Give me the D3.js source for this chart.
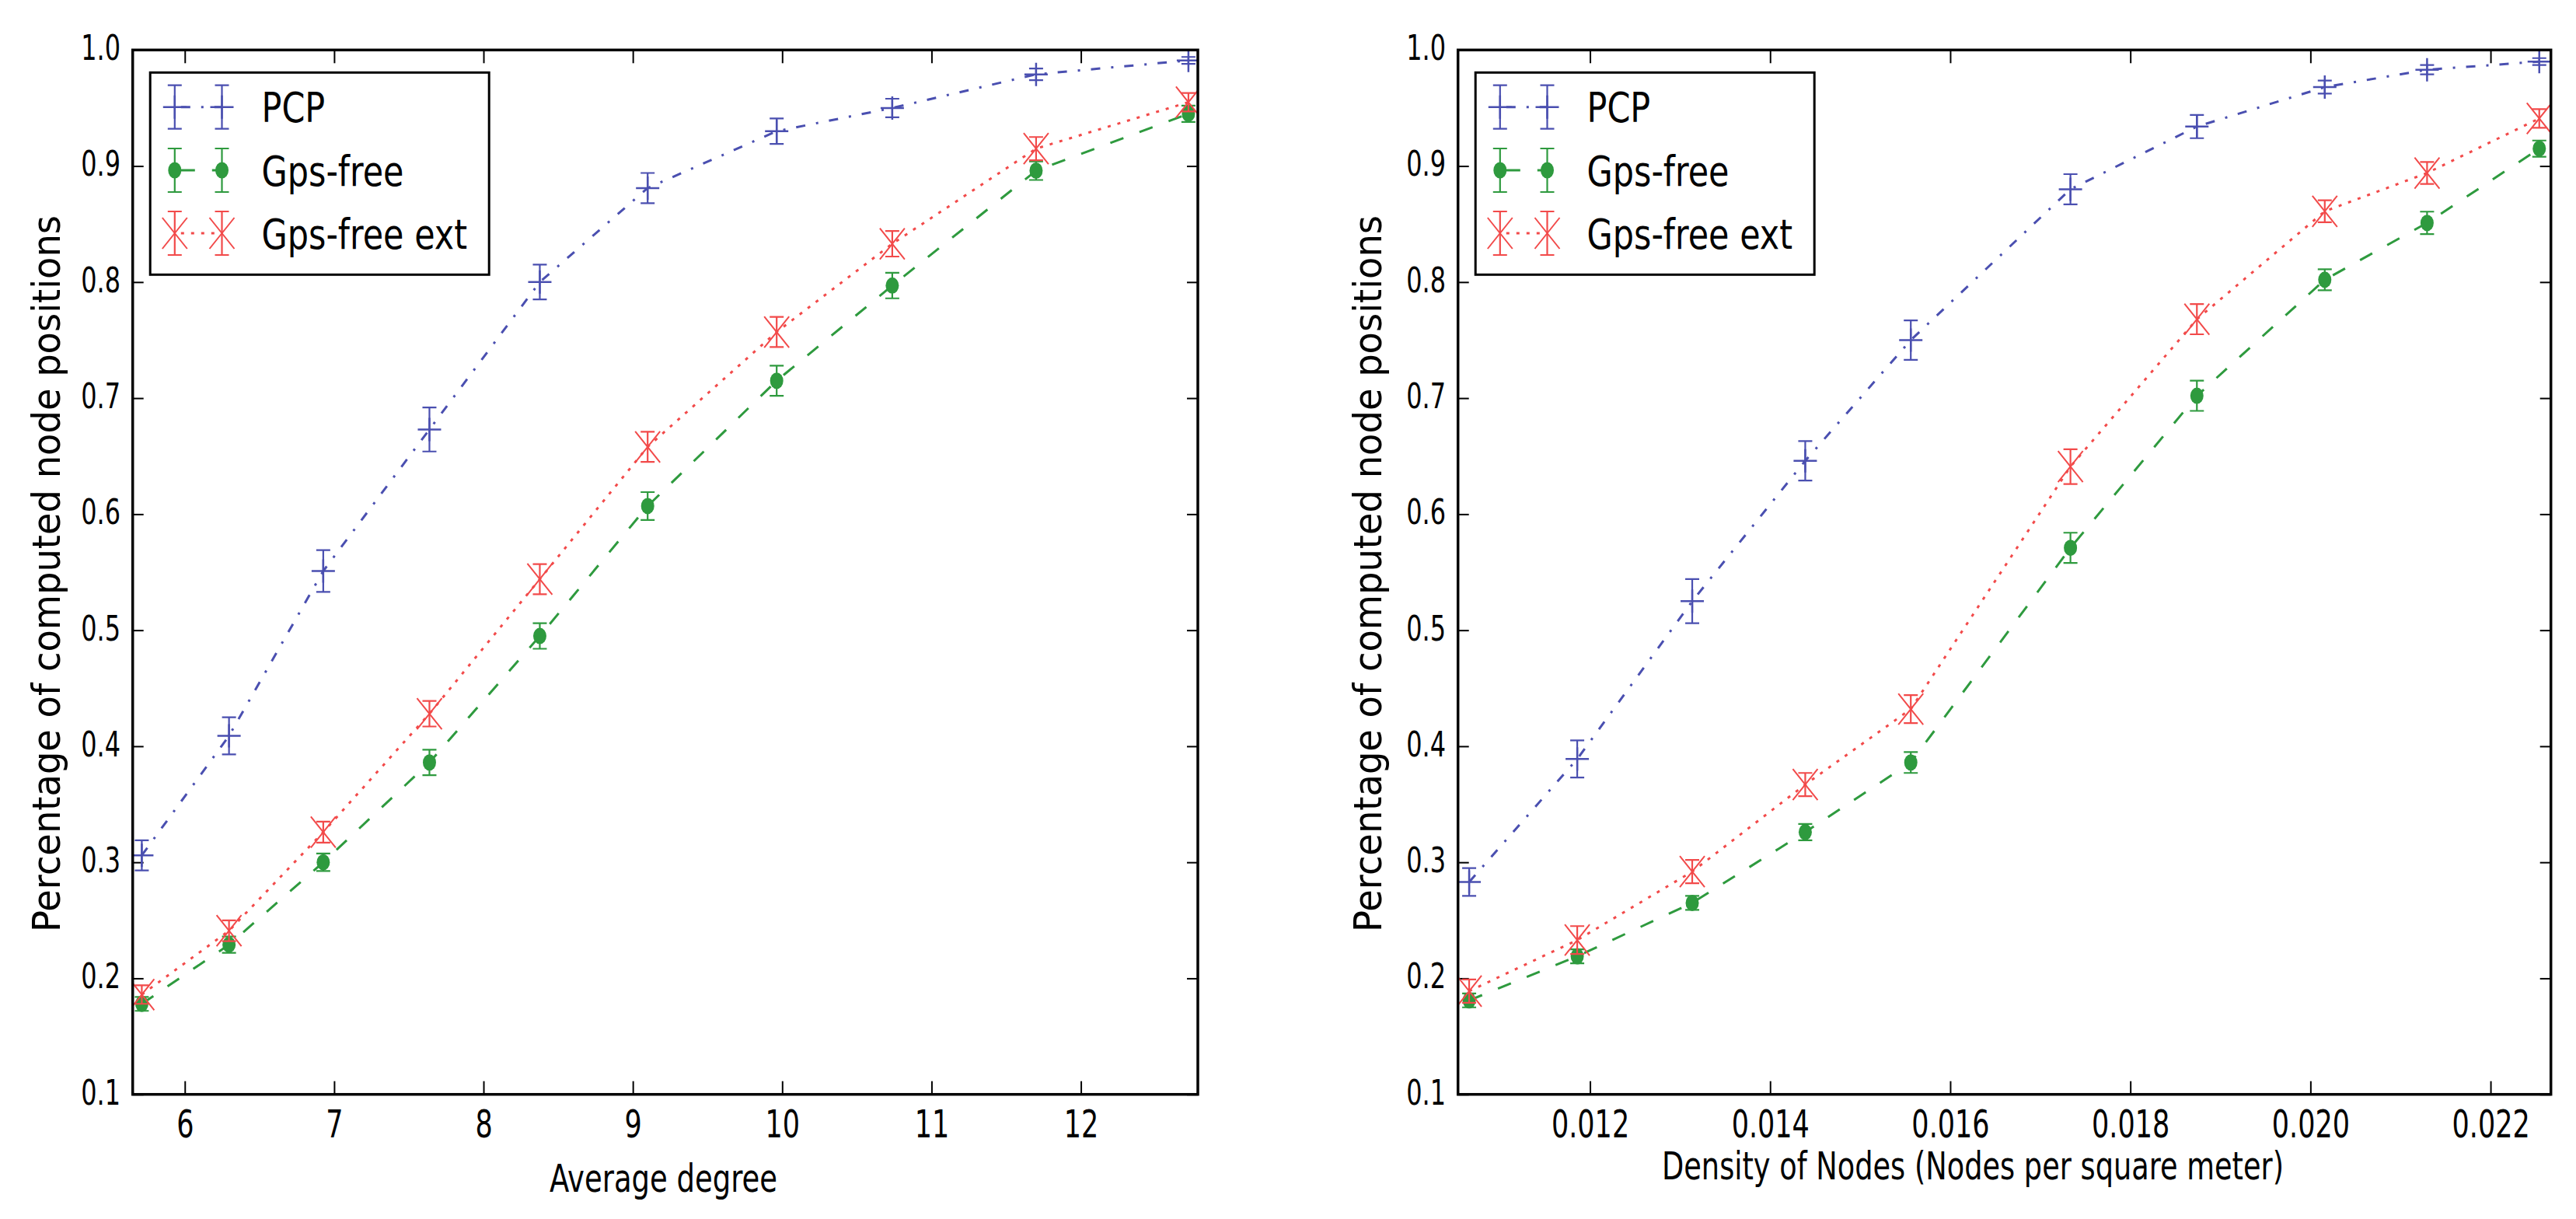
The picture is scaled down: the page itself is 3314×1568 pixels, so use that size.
<!DOCTYPE html>
<html>
<head>
<meta charset="utf-8">
<script src="https://cdn.jsdelivr.net/npm/d3@7"></script>
<style>
  body { margin: 0; background: #fff; }
  text { font-family: "DejaVu Sans", sans-serif; fill: #000; }
</style>
</head>
<body>
<svg id="chart" width="3314" height="1568"></svg>
<script>
// ---- data ----
var degreeX = [5.712, 6.296, 6.927, 7.638, 8.377, 9.099, 9.963, 10.737, 11.70, 12.72];
var pcpDeg = [0.306, 0.409, 0.551, 0.673, 0.800, 0.881, 0.930, 0.950, 0.979, 0.991];
var pcpDegErr = [0.013, 0.016, 0.018, 0.019, 0.015, 0.013, 0.011, 0.008, 0.005, 0.003];
var gpsDeg = [0.178, 0.229, 0.300, 0.386, 0.495, 0.607, 0.715, 0.797, 0.896, 0.945];
var gpsDegErr = [0.006, 0.007, 0.0075, 0.011, 0.011, 0.012, 0.013, 0.011, 0.008, 0.007];
var extDeg = [0.186, 0.241, 0.326, 0.428, 0.544, 0.658, 0.757, 0.833, 0.915, 0.955];
var extDegErr = [0.008, 0.009, 0.009, 0.011, 0.013, 0.013, 0.013, 0.011, 0.010, 0.008];

var densityX = [0.010658, 0.011858, 0.013135, 0.01439, 0.015562, 0.017335, 0.018739, 0.020159, 0.021295, 0.022541];
var pcpDen = [0.283, 0.389, 0.525, 0.646, 0.750, 0.880, 0.934, 0.968, 0.983, 0.990];
var pcpDenErr = [0.012, 0.016, 0.019, 0.017, 0.017, 0.013, 0.010, 0.0056, 0.004, 0.003];
var gpsDen = [0.181, 0.219, 0.265, 0.326, 0.386, 0.571, 0.702, 0.802, 0.851, 0.915];
var gpsDenErr = [0.006, 0.006, 0.006, 0.007, 0.009, 0.013, 0.013, 0.009, 0.0097, 0.007];
var extDen = [0.189, 0.233, 0.292, 0.367, 0.432, 0.641, 0.768, 0.861, 0.894, 0.941];
var extDenErr = [0.010, 0.012, 0.010, 0.010, 0.012, 0.015, 0.013, 0.0095, 0.0095, 0.008];

var seriesNames = ["PCP", "Gps-free", "Gps-free ext"];
var yTicks = [0.1, 0.2, 0.3, 0.4, 0.5, 0.6, 0.7, 0.8, 0.9, 1.0];
var degreeTicks = [6, 7, 8, 9, 10, 11, 12];
var densityTicks = [0.012, 0.014, 0.016, 0.018, 0.020, 0.022];

// ---- styles ----
var styles = [
  {color: "#4a4fb0", dash: "12,14,3,14", marker: "plus"},
  {color: "#2e9a3e", dash: "18,22", marker: "dot"},
  {color: "#f24a4a", dash: "4,9", marker: "cross"}
];

var plotTop = 64.3, plotBottom = 1407.7;

var panels = [
  {left: 170.7, right: 1541, domain: [5.651, 12.783], xs: degreeX,
   ys: [pcpDeg, gpsDeg, extDeg], errs: [pcpDegErr, gpsDegErr, extDegErr],
   ticks: degreeTicks, fmt: d3.format("d"),
   xlabel: "Average degree", xlabelX: 853.5, xlabelY: 1533, xlabelLen: 293, xlabelAnchor: "middle",
   ylabelX: 77},
  {left: 1875.7, right: 3281.7, domain: [0.010534, 0.02267], xs: densityX,
   ys: [pcpDen, gpsDen, extDen], errs: [pcpDenErr, gpsDenErr, extDenErr],
   ticks: densityTicks, fmt: d3.format(".3f"),
   xlabel: "Density of Nodes (Nodes per square meter)", xlabelX: 2138, xlabelY: 1517, xlabelLen: 800, xlabelAnchor: "start",
   ylabelX: 1777}
];

var svg = d3.select("#chart");
svg.append("rect").attr("width", 3314).attr("height", 1568).attr("fill", "#fff");

function squeeze(sel, k) {
  sel.each(function() {
    var len = this.getComputedTextLength();
    this.setAttribute("textLength", len * k);
    this.setAttribute("lengthAdjust", "spacingAndGlyphs");
  });
}

function drawMarker(g, type, cx, cy, color) {
  if (type == "plus") {
    g.append("path")
      .attr("d", "M" + (cx - 15) + "," + cy + "H" + (cx + 15) + "M" + cx + "," + (cy - 15) + "V" + (cy + 15))
      .attr("stroke", color).attr("stroke-width", 2.5).attr("fill", "none");
  } else if (type == "dot") {
    g.append("ellipse").attr("cx", cx).attr("cy", cy).attr("rx", 8.5).attr("ry", 10.5)
      .attr("fill", color);
  } else {
    g.append("path")
      .attr("d", "M" + (cx - 16) + "," + (cy - 20) + "L" + (cx + 16) + "," + (cy + 20) +
                 "M" + (cx - 16) + "," + (cy + 20) + "L" + (cx + 16) + "," + (cy - 20))
      .attr("stroke", color).attr("stroke-width", 2).attr("fill", "none");
  }
}

function errorBar(g, cx, y0, y1, color) {
  g.append("path")
    .attr("d", "M" + cx + "," + y0 + "V" + y1 +
               "M" + (cx - 9) + "," + y0 + "H" + (cx + 9) +
               "M" + (cx - 9) + "," + y1 + "H" + (cx + 9))
    .attr("stroke", color).attr("stroke-width", 2.2).attr("fill", "none");
}

panels.forEach(function(p, pi) {
  var x = d3.scaleLinear().domain(p.domain).range([p.left, p.right]);
  var y = d3.scaleLinear().domain([0.1, 1.0]).range([plotBottom, plotTop]);
  var g = svg.append("g");

  var clipId = "clip" + pi;
  g.append("clipPath").attr("id", clipId).append("rect")
    .attr("x", p.left).attr("y", plotTop).attr("width", p.right - p.left).attr("height", plotBottom - plotTop);

  // axes: ticks pointing inward on all four sides
  var ax = g.append("g").attr("transform", "translate(0," + plotBottom + ")")
    .call(d3.axisBottom(x).tickValues(p.ticks).tickFormat(p.fmt).tickSizeInner(-17).tickSizeOuter(0));
  ax.selectAll("text").attr("y", 1463 - plotBottom).attr("dy", null).style("font-size", "50px").call(squeeze, 0.7);

  var ay = g.append("g").attr("transform", "translate(" + p.left + ",0)")
    .call(d3.axisLeft(y).tickValues(yTicks).tickFormat(d3.format(".1f")).tickSizeInner(-14).tickSizeOuter(0));
  ay.selectAll("text").attr("x", -15.7).attr("y", 12.4).attr("dy", null).style("font-size", "45px").call(squeeze, 0.71);

  g.append("g").attr("transform", "translate(0," + plotTop + ")")
    .call(d3.axisTop(x).tickValues(p.ticks).tickFormat("").tickSizeInner(-17).tickSizeOuter(0));
  g.append("g").attr("transform", "translate(" + p.right + ",0)")
    .call(d3.axisRight(y).tickValues(yTicks).tickFormat("").tickSizeInner(-14).tickSizeOuter(0));

  g.selectAll(".domain").remove();
  g.selectAll(".tick line").attr("stroke", "#000").attr("stroke-width", 2);

  // data
  var plot = g.append("g").attr("clip-path", "url(#" + clipId + ")");
  styles.forEach(function(s, si) {
    var vals = p.ys[si], errs = p.errs[si];
    var pts = p.xs.map(function(d, i) { return [d, vals[i]]; });
    plot.append("path")
      .datum(pts)
      .attr("d", d3.line().x(function(d) { return x(d[0]); }).y(function(d) { return y(d[1]); }))
      .attr("fill", "none").attr("stroke", s.color).attr("stroke-width", 3)
      .attr("stroke-dasharray", s.dash);
    pts.forEach(function(d, i) {
      errorBar(plot, x(d[0]), y(d[1] - errs[i]), y(d[1] + errs[i]), s.color);
      drawMarker(plot, s.marker, x(d[0]), y(d[1]), s.color);
    });
  });

  // frame
  g.append("rect").attr("x", p.left).attr("y", plotTop)
    .attr("width", p.right - p.left).attr("height", plotBottom - plotTop)
    .attr("fill", "none").attr("stroke", "#000").attr("stroke-width", 3.5);

  // axis labels
  g.append("text").attr("x", p.xlabelX).attr("y", p.xlabelY)
    .attr("text-anchor", p.xlabelAnchor).style("font-size", "50px")
    .attr("textLength", p.xlabelLen).attr("lengthAdjust", "spacingAndGlyphs")
    .text(p.xlabel);
  g.append("text")
    .attr("transform", "translate(" + p.ylabelX + "," + ((plotTop + plotBottom) / 2 + 2) + ") rotate(-90)")
    .attr("text-anchor", "middle").style("font-size", "50px")
    .attr("textLength", 922).attr("lengthAdjust", "spacingAndGlyphs")
    .text("Percentage of computed node positions");

  // legend
  var lx = p.left + 22.5, ly = 93.3;
  var leg = g.append("g");
  leg.append("rect").attr("x", lx).attr("y", ly).attr("width", 436).attr("height", 260)
    .attr("fill", "#fff").attr("stroke", "#000").attr("stroke-width", 3);
  var rowY = [137.7, 219, 300];
  styles.forEach(function(s, si) {
    var ry = rowY[si], m1 = lx + 31.6, m2 = lx + 92.3;
    leg.append("line").attr("x1", m1).attr("x2", m2).attr("y1", ry).attr("y2", ry)
      .attr("stroke", s.color).attr("stroke-width", 3).attr("stroke-dasharray", s.dash)
      .attr("stroke-dashoffset", -8);
    [m1, m2].forEach(function(mx) {
      errorBar(leg, mx, ry - 28, ry + 28, s.color);
      drawMarker(leg, s.marker, mx, ry, s.color);
    });
    leg.append("text").attr("x", lx + 143.3).attr("y", ry + 19.5)
      .style("font-size", "53px").text(seriesNames[si]).call(squeeze, 0.81);
  });
});
</script>
</body>
</html>
